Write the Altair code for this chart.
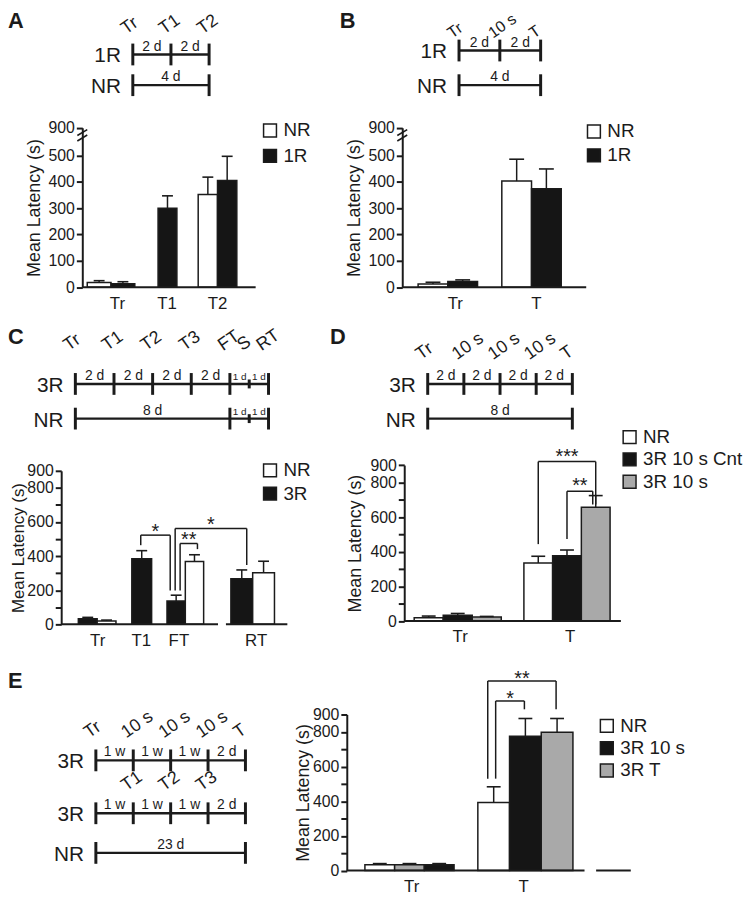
import altair as alt
import pandas as pd

M = 8                      # page margin
W, H = 744, 888            # drawing area
FONT = "Liberation Sans"
INK = "#1b1b1b"
WHITE, BLACK, GRAY = "#ffffff", "#151515", "#a9a9a9"


def px(v):
    return v - M


# ============================ DATA ============================
# --- Panel A ---
A_groups = ["Tr", "T1", "T2"]
A_series = ["NR", "1R"]
A_mean = {"NR": [18, None, 352], "1R": [13, 300, 405]}
A_err = {"NR": [7, None, 66], "1R": [8, 47, 92]}
A_tl_rows = ["1R", "NR"]
A_tl_ticks = [[0, 2, 4], [0, 4]]
A_tl_minor = [[], []]
A_tl_marks = [[(0, "Tr"), (2, "T1"), (4, "T2")], []]
A_tl_spans = [[(0, 2, "2 d"), (2, 4, "2 d")], [(0, 4, "4 d")]]

# --- Panel B ---
B_groups = ["Tr", "T"]
B_series = ["NR", "1R"]
B_mean = {"NR": [12, 403], "1R": [22, 374]}
B_err = {"NR": [7, 83], "1R": [6, 75]}
B_tl_rows = ["1R", "NR"]
B_tl_ticks = [[0, 2, 4], [0, 4]]
B_tl_minor = [[], []]
B_tl_marks = [[(0, "Tr"), (2, "10 s"), (4, "T")], []]
B_tl_spans = [[(0, 2, "2 d"), (2, 4, "2 d")], [(0, 4, "4 d")]]

# --- Panel C ---
C_groups = ["Tr", "T1", "FT", "RT"]
C_series = ["NR", "3R"]
C_bar_order = ["3R", "NR"]
C_mean = {"3R": [33, 385, 137, 268], "NR": [20, None, 368, 302]}
C_err = {"3R": [8, 47, 34, 51], "NR": [5, None, 40, 68]}
C_sig_text = ["*", "**", "*"]
C_sig_left = [("T1", "3R"), ("FT", "3R"), ("FT", "3R")]
C_sig_right = [("FT", "3R"), ("FT", "NR"), ("RT", "3R")]
C_sig_top = [523, 474, 562]
C_sig_left_end = [464, 199, 199]
C_sig_right_end = [199, 441, 348]
C_tl_rows = ["3R", "NR"]
C_tl_ticks = [[0, 2, 4, 6, 8, 10], [0, 8, 10]]
C_tl_minor = [[9], [9]]
C_tl_marks = [[(0, "Tr"), (2, "T1"), (4, "T2"), (6, "T3"), (8, "FT"), (9, "S"), (10, "RT")], []]
C_tl_spans = [[(0, 2, "2 d"), (2, 4, "2 d"), (4, 6, "2 d"), (6, 8, "2 d"), (8, 9, "1 d"), (9, 10, "1 d")],
              [(0, 8, "8 d"), (8, 9, "1 d"), (9, 10, "1 d")]]

# --- Panel D ---
D_groups = ["Tr", "T"]
D_series = ["NR", "3R 10 s Cnt", "3R 10 s"]
D_mean = {"NR": [19, 335], "3R 10 s Cnt": [34, 377], "3R 10 s": [23, 657]}
D_err = {"NR": [10, 39], "3R 10 s Cnt": [10, 33], "3R 10 s": [4, 67]}
D_sig_text = ["***", "**"]
D_sig_left = [("T", "NR"), ("T", "3R 10 s Cnt")]
D_sig_right = [("T", "3R 10 s"), ("T", "3R 10 s")]
D_sig_top = [920, 749]
D_sig_left_end = [444, 473]
D_sig_right_end = [673, 673]
D_tl_rows = ["3R", "NR"]
D_tl_ticks = [[0, 2, 4, 6, 8], [0, 8]]
D_tl_minor = [[], []]
D_tl_marks = [[(0, "Tr"), (2, "10 s"), (4, "10 s"), (6, "10 s"), (8, "T")], []]
D_tl_spans = [[(0, 2, "2 d"), (2, 4, "2 d"), (4, 6, "2 d"), (6, 8, "2 d")], [(0, 8, "8 d")]]

# --- Panel E ---
E_groups = ["Tr", "T"]
E_series = ["NR", "3R 10 s", "3R T"]
E_bar_order = {"Tr": ["NR", "3R T", "3R 10 s"], "T": ["NR", "3R 10 s", "3R T"]}
E_mean = {"NR": [33, 393], "3R 10 s": [33, 774], "3R T": [33, 797]}
E_err = {"NR": [7, 90], "3R 10 s": [7, 103], "3R T": [7, 80]}
E_sig_text = ["*", "**"]
E_sig_left = [("T", "NR"), ("T", "NR")]
E_sig_right = [("T", "3R 10 s"), ("T", "3R T")]
E_sig_top = [978, 1093]
E_sig_left_end = [530, 530]
E_sig_right_end = [930, 930]
E_tl_rows = ["3R", "3R", "NR"]
E_tl_ticks = [[0, 1, 2, 3, 4], [0, 1, 2, 3, 4], [0, 4]]
E_tl_minor = [[], [], []]
E_tl_marks = [[(0, "Tr"), (1, "10 s"), (2, "10 s"), (3, "10 s"), (4, "T")],
              [(1, "T1"), (2, "T2"), (3, "T3")], []]
E_tl_spans = [[(0, 1, "1 w"), (1, 2, "1 w"), (2, 3, "1 w"), (3, 4, "2 d")],
              [(0, 1, "1 w"), (1, 2, "1 w"), (2, 3, "1 w"), (3, 4, "2 d")],
              [(0, 4, "23 d")]]

# ============================ LAYOUT (reference pixels) ============================
TICKS_100 = list(range(0, 1000, 100))
LAY_A = dict(x0=83, segs=[(83, 258)], ydom=[0, 500, 900], yrng=[285.7, 152.7, 124.7],
             gc=[112, 169, 219.5], gw=[24, 19, 19.5], lx=[118, 168, 219], cap=11,
             yticks=[0, 100, 200, 300, 400, 500, 900], every=True, tp=4, tfs=18,
             brk=[(-5, 710, 5, 796), (-5, 789, 5, 874)],
             leg=(263, 129, 24))
LAY_B = dict(x0=406, segs=[(406, 591.7)], ydom=[0, 500, 900], yrng=[285.7, 152.7, 124.7],
             gc=[452, 536.5], gw=[30, 30], lx=[459, 541], cap=15,
             yticks=[0, 100, 200, 300, 400, 500, 900], every=True, tp=4, tfs=18,
             brk=[(-5, 710, 5, 796), (-5, 789, 5, 874)],
             leg=(590, 130, 22.5))
LAY_C = dict(x0=61.7, segs=[(61.7, 220), (228, 290)], ydom=[0, 900], yrng=[626, 471],
             gc=[98, 143, 187, 255], gw=[19, 20, 18.5, 22], lx=[98, 142, 180, 258], cap=11,
             yticks=TICKS_100, every=False, tp=-1, tfs=17,
             legdx=[(-1, -6), (4, 3), (-1, 5)], stardy=3,
             leg=(263, 472, 22))
LAY_D = dict(x0=408, segs=[(408, 626.7)], ydom=[0, 900], yrng=[622.7, 465.2],
             gc=[462, 572.3], gw=[29.3, 29], lx=[464, 575], cap=14,
             yticks=TICKS_100, every=False, tp=5, tfs=18, legdx=[(0, 0), (0, -3)], stardy=1,
             leg=(626, 438.5, 21))
LAY_E = dict(x0=350, segs=[(350, 590), (601.7, 636.7)], ydom=[0, 900], yrng=[874.5, 717],
             gc=[413.3, 530.3], gw=[30, 32], lx=[415, 528], cap=14,
             yticks=TICKS_100, every=False, tp=0, tfs=18, legdx=[(2, -1), (-6, -1)], stardy=4,
             leg=(603, 730, 21))

TL_A = dict(xd=[0, 4], xr=[134, 211], ys=[50.7, 81.7], mdy=-20, mfs=18)
TL_B = dict(xd=[0, 4], xr=[463.3, 545.7], ys=[46.7, 81.7], mdy=-12, mfs=16)
TL_C = dict(xd=[0, 10], xr=[76, 271], ys=[383.3, 418.3], mdy=-33, mfs=18, small=True)
TL_D = dict(xd=[0, 8], xr=[431.7, 577.7], ys=[383.3, 418.3], mdy=-24, mfs=18)
TL_E = dict(xd=[0, 4], xr=[96.7, 247.7], ys=[763.3, 816.7, 856.7], mdy=-22, mfs=18)

LEG_CENTER_OFF = 11.0      # legend top -> first row centre
LEG_ROW_H = 18.5           # legend row height without padding


# ============================ BUILDERS ============================
def label_expr(vals, names):
    expr = repr(names[-1])
    for i in range(len(vals) - 2, -1, -1):
        mid = (vals[i] + vals[i + 1]) / 2
        expr = f"datum.value < {mid:.2f} ? {names[i]!r} : ({expr})"
    return expr


def bar_panel(groups, series, bar_order, mean, err, colors, lay,
              sig_text=None, sig_left=None, sig_right=None, sig_top=None,
              sig_lend=None, sig_rend=None):
    rows, centers = [], {}
    for gi, g in enumerate(groups):
        order = bar_order[g] if isinstance(bar_order, dict) else bar_order
        present = [s for s in order if mean[s][gi] is not None]
        n, w = len(present), lay["gw"][gi]
        for k, s in enumerate(present):
            c = lay["gc"][gi] + (k - (n - 1) / 2) * w - lay["x0"]
            centers[(g, s)] = c
            rows.append(dict(group=g, series=s, mean=mean[s][gi],
                             top=mean[s][gi] + err[s][gi],
                             xl=c - w / 2, xr=c + w / 2, xc=c, zero=0))
    df = pd.DataFrame(rows)
    x0 = lay["x0"]
    xend = lay["segs"][-1][1]

    def xsc():
        return alt.Scale(domain=[0, xend - x0], range=[px(x0), px(xend)], nice=False, zero=False)

    def ysc():
        return alt.Scale(domain=lay["ydom"], range=[px(v) for v in lay["yrng"]], nice=False, zero=False)

    lx = [v - x0 for v in lay["lx"]]
    xaxis = alt.Axis(orient="bottom", offset=px(lay["yrng"][0]) - H, values=lx,
                     labelExpr=label_expr(lx, groups), domain=False, ticks=False, tickSize=0,
                     grid=False, labelPadding=8, labelFontSize=17, labelColor=INK, labelFont=FONT,
                     labelFlush=False, labelOverlap=False, labelAngle=0, title=None)
    lab = "datum.label" if lay["every"] else \
        "(datum.value % 200 === 0 || datum.value === 900) ? datum.label : ''"
    yaxis = alt.Axis(orient="left", offset=-px(x0), values=lay["yticks"], labelExpr=lab,
                     title="Mean Latency (s)", titleFontSize=lay["tfs"], titleFontWeight="normal",
                     titleFont=FONT, titleColor=INK, titlePadding=lay["tp"],
                     labelFontSize=16, labelFont=FONT, labelColor=INK, labelPadding=2,
                     labelFlush=False, labelOverlap=False, grid=False,
                     domainColor=INK, domainWidth=2, tickColor=INK, tickWidth=2, tickSize=6)
    sl, c1, sp = lay["leg"]
    legend = alt.Legend(orient="none", legendX=px(sl), legendY=px(c1) - LEG_CENTER_OFF, title=None,
                        symbolType="square", symbolSize=169, symbolStrokeColor=INK,
                        symbolStrokeWidth=1.5, symbolOpacity=1, labelFontSize=19,
                        labelFont=FONT, labelColor=INK, rowPadding=sp - LEG_ROW_H,
                        labelOffset=4, padding=0)

    base = alt.Chart(df)
    bars = base.mark_bar(stroke=INK, strokeWidth=1.5, opacity=1).encode(
        x=alt.X("xl:Q", scale=xsc(), axis=xaxis),
        x2="xr:Q",
        y=alt.Y("mean:Q", scale=ysc(), axis=yaxis),
        y2="zero:Q",
        fill=alt.Fill("series:N", scale=alt.Scale(domain=series, range=colors), legend=legend),
    )
    errl = base.mark_rule(color=INK, strokeWidth=1.5).encode(
        x=alt.X("xc:Q", scale=xsc(), axis=None),
        y=alt.Y("mean:Q", scale=ysc(), axis=None), y2="top:Q")
    caps = base.mark_tick(orient="horizontal", size=lay["cap"], thickness=1.6,
                          color=INK, opacity=1).encode(
        x=alt.X("xc:Q", scale=xsc(), axis=None),
        y=alt.Y("top:Q", scale=ysc(), axis=None))
    segdf = pd.DataFrame([dict(a=a - x0, b=b - x0, zero=0) for a, b in lay["segs"]])
    baseline = alt.Chart(segdf).mark_rule(color=INK, strokeWidth=2).encode(
        x=alt.X("a:Q", scale=xsc(), axis=None), x2="b:Q",
        y=alt.Y("zero:Q", scale=ysc(), axis=None))
    layers = [bars, errl, caps, baseline]

    if "brk" in lay:
        bdf = pd.DataFrame([dict(x=a, y=b, x2=c, y2=d) for a, b, c, d in lay["brk"]])
        layers.append(alt.Chart(bdf).mark_rule(color=INK, strokeWidth=1.6).encode(
            x=alt.X("x:Q", scale=xsc(), axis=None), x2="x2:Q",
            y=alt.Y("y:Q", scale=ysc(), axis=None), y2="y2:Q"))

    if sig_text:
        segs, stars = [], []
        for i, t in enumerate(sig_text):
            dl, dr = lay["legdx"][i]
            xl = centers[sig_left[i]] + dl
            xr = centers[sig_right[i]] + dr
            top = sig_top[i]
            segs += [dict(x=xl, x2=xl, y=sig_lend[i], y2=top),
                     dict(x=xl, x2=xr, y=top, y2=top),
                     dict(x=xr, x2=xr, y=top, y2=sig_rend[i])]
            stars.append(dict(x=(xl + xr) / 2, y=top, t=t))
        layers.append(alt.Chart(pd.DataFrame(segs)).mark_rule(color=INK, strokeWidth=1.5).encode(
            x=alt.X("x:Q", scale=xsc(), axis=None), x2="x2:Q",
            y=alt.Y("y:Q", scale=ysc(), axis=None), y2="y2:Q"))
        layers.append(alt.Chart(pd.DataFrame(stars)).mark_text(
            fontSize=20, font=FONT, color=INK, align="center", baseline="alphabetic",
            dy=lay["stardy"]).encode(
            x=alt.X("x:Q", scale=xsc(), axis=None),
            y=alt.Y("y:Q", scale=ysc(), axis=None), text="t:N"))
    return layers


def timeline(rows, ticks, minor, marks, spans, lay):
    n = len(rows)

    def X(f):
        return alt.X(f, scale=alt.Scale(domain=lay["xd"], range=[px(v) for v in lay["xr"]],
                                        nice=False, zero=False), axis=None)

    def Y(f):
        return alt.Y(f, scale=alt.Scale(domain=list(range(n)), range=[px(v) for v in lay["ys"]],
                                        nice=False, zero=False), axis=None)

    ldf = pd.DataFrame([dict(r=i, s=min(t), e=max(t), name=rows[i]) for i, t in enumerate(ticks)])
    tdf = pd.DataFrame([dict(r=i, d=d) for i, t in enumerate(ticks) for d in t])
    layers = [
        alt.Chart(ldf).mark_rule(color=INK, strokeWidth=2.4).encode(x=X("s:Q"), x2="e:Q", y=Y("r:Q")),
        alt.Chart(tdf).mark_tick(orient="vertical", size=22, thickness=3, color=INK, opacity=1).encode(
            x=X("d:Q"), y=Y("r:Q")),
        alt.Chart(ldf).mark_text(align="right", baseline="middle", fontSize=21, font=FONT,
                                 color=INK, xOffset=-12, yOffset=2).encode(
            x=X("s:Q"), y=Y("r:Q"), text="name:N"),
    ]
    mn = [dict(r=i, d=d) for i, t in enumerate(minor) for d in t]
    if mn:
        layers.append(alt.Chart(pd.DataFrame(mn)).mark_tick(
            orient="vertical", size=9, thickness=3, color=INK, opacity=1).encode(
            x=X("d:Q"), y=Y("r:Q")))
    mk = [dict(r=i, d=d, t=t) for i, m in enumerate(marks) for d, t in m]
    if mk:
        layers.append(alt.Chart(pd.DataFrame(mk)).mark_text(
            align="left", baseline="alphabetic", angle=325, fontSize=lay["mfs"], font=FONT,
            color=INK, xOffset=-7, yOffset=lay["mdy"]).encode(
            x=X("d:Q"), y=Y("r:Q"), text="t:N"))
    sp = [dict(r=i, m=(a + b) / 2, t=t, small=(lay.get("small", False) and (b - a) < 2))
          for i, s in enumerate(spans) for a, b, t in s]
    spdf = pd.DataFrame(sp)
    big = spdf[~spdf["small"]]
    sml = spdf[spdf["small"]]
    layers.append(alt.Chart(big).mark_text(
        align="center", baseline="alphabetic", fontSize=14, font=FONT, color=INK, yOffset=-4).encode(
        x=X("m:Q"), y=Y("r:Q"), text="t:N"))
    if len(sml):
        layers.append(alt.Chart(sml).mark_text(
            align="center", baseline="alphabetic", fontSize=10, font=FONT, color=INK, yOffset=-4).encode(
            x=X("m:Q"), y=Y("r:Q"), text="t:N"))
    return layers


def letter(t, x, y):
    return alt.Chart(alt.Data(values=[{}])).mark_text(
        text=t, fontSize=22, fontWeight="bold", font=FONT, align="left",
        baseline="alphabetic", color=INK).encode(x=alt.value(x), y=alt.value(y))


# ============================ ASSEMBLY ============================
layers = []
layers += timeline(A_tl_rows, A_tl_ticks, A_tl_minor, A_tl_marks, A_tl_spans, TL_A)
layers += bar_panel(A_groups, A_series, A_series, A_mean, A_err, [WHITE, BLACK], LAY_A)
layers += timeline(B_tl_rows, B_tl_ticks, B_tl_minor, B_tl_marks, B_tl_spans, TL_B)
layers += bar_panel(B_groups, B_series, B_series, B_mean, B_err, [WHITE, BLACK], LAY_B)
layers += timeline(C_tl_rows, C_tl_ticks, C_tl_minor, C_tl_marks, C_tl_spans, TL_C)
layers += bar_panel(C_groups, C_series, C_bar_order, C_mean, C_err, [WHITE, BLACK], LAY_C,
                   C_sig_text, C_sig_left, C_sig_right, C_sig_top, C_sig_left_end, C_sig_right_end)
layers += timeline(D_tl_rows, D_tl_ticks, D_tl_minor, D_tl_marks, D_tl_spans, TL_D)
layers += bar_panel(D_groups, D_series, D_series, D_mean, D_err, [WHITE, BLACK, GRAY], LAY_D,
                   D_sig_text, D_sig_left, D_sig_right, D_sig_top, D_sig_left_end, D_sig_right_end)
layers += timeline(E_tl_rows, E_tl_ticks, E_tl_minor, E_tl_marks, E_tl_spans, TL_E)
layers += bar_panel(E_groups, E_series, E_bar_order, E_mean, E_err, [WHITE, BLACK, GRAY], LAY_E,
                   E_sig_text, E_sig_left, E_sig_right, E_sig_top, E_sig_left_end, E_sig_right_end)
layers += [letter("A", 0, 16), letter("B", px(343), 16), letter("C", 0, px(343)),
           letter("D", px(333), px(343)), letter("E", 0, px(690))]

chart = alt.layer(*layers).resolve_scale(
    x="independent", y="independent", fill="independent"
).resolve_axis(x="independent", y="independent").resolve_legend(fill="independent").properties(
    width=W, height=H, padding=0, autosize=alt.AutoSizeParams(type="none")
).configure(font=FONT).configure_view(stroke=None)

chart.save("out.html", embed_options={"renderer": "svg", "actions": False})
